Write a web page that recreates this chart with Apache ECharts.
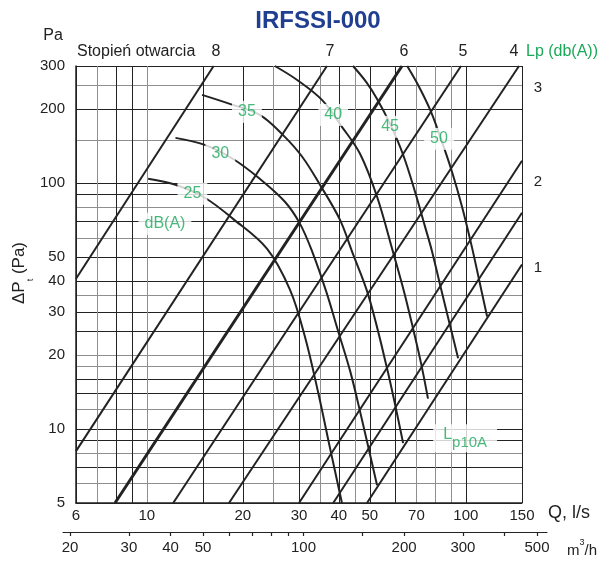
<!DOCTYPE html>
<html><head><meta charset="utf-8">
<script src="https://cdn.jsdelivr.net/npm/echarts@6/dist/echarts.min.js"></script>
<style>html,body{margin:0;padding:0;background:#fff}#c{width:606px;height:561px}</style>
</head><body><div id="c"></div>
<script>
// ---- axis values ----
const qBlackLines = [6, 8, 9, 15, 20, 30, 40, 50, 60, 100, 150];
const qGrayLines = [7, 10, 25, 35, 45, 70, 80, 90];
const qLabels = [6, 10, 20, 30, 40, 50, 70, 100, 150];
const pBlackLines = [5, 7, 9, 10, 14, 16, 25, 30, 40, 50, 70, 90, 100, 200, 300];
const pGrayLines = [6, 8, 12, 18, 20, 35, 60, 80, 150, 250];
const pLabels = [5, 10, 20, 30, 40, 50, 100, 200, 300];
const m3hTicks = [20, 30, 40, 50, 60, 70, 80, 90, 100, 150, 200, 300, 400, 500];
const m3hLabels = [20, 30, 40, 50, 100, 200, 300, 500];

// ---- damper opening lines (Q l/s, dP Pa) ----
const openingNames = ['8', '7', '6', '5', '4', '3', '2', '1'];
const openingStart = [[6, 40.9], [6, 8.13], [7.95, 5], [12.1, 5], [18.1, 5], [30, 5], [38.4, 5], [49.0, 5]];
const openingEnd = [[16.2, 300], [36.7, 300], [63.1, 300], [96.6, 300], [146.8, 300], [150, 123.4], [150, 75.9], [150, 46.7]];

// ---- sound level curves dB(A) ----
const curve25 = [[10.1, 104.3], [12.3, 98.6], [15.2, 87.3], [18.6, 71.8], [23.8, 54.2], [28.1, 36.9], [31.3, 23.8], [34.4, 14.2], [37.5, 8.4], [40.9, 5]];
const curve30 = [[12.3, 153.0], [15.2, 143.3], [18.6, 125.8], [22.6, 104.3], [27.1, 84.1], [30.2, 68.5], [33.0, 52.7], [36.5, 36.3], [39.8, 25.0], [43.4, 17.2], [46.6, 11.8], [52.7, 5.9]];
const curve35 = [[14.9, 228.8], [18.2, 210.3], [22.6, 189.8], [26.7, 157.4], [30.7, 128.2], [34.9, 98.6], [40.3, 71.1], [44.0, 52.7], [49.4, 35.3], [56.6, 17.7], [63.6, 8.76]];
const curve40 = [[25.2, 300], [29.6, 263.2], [35.4, 218.3], [40.9, 169.7], [46.6, 131.8], [52.7, 88.1], [59.1, 52.7], [64.0, 36.3], [68.3, 25.7], [72.4, 18.5], [76.1, 13.3]];
const curve45 = [[44.3, 300], [48.7, 258.5], [52.7, 220.4], [57.9, 174.4], [63.6, 130.6], [69.3, 92.4], [74.5, 66.6], [78.4, 52.7], [83.0, 38.7], [88.6, 27.4], [94.6, 19.4]];
const curve50 = [[65.5, 300], [71.4, 246.5], [77.8, 195.2], [84.2, 147.4], [90.5, 111.4], [97.3, 80.3], [103.9, 56.8], [110.0, 40.6], [116.6, 28.7]];

const curveLabelText = ['25', '30', '35', '40', '45', '50', 'dB(A)'];
const curveLabelQ = [13.9, 17.0, 20.6, 38.4, 57.9, 82.4, 11.4];
const curveLabelP = [90.6, 131.8, 195.2, 189.7, 169.7, 151.6, 68.5];
const lp10aPos = [99.5, 9.17];

// ---- styles ----
const FONT = "'Liberation Sans', Arial, Helvetica, sans-serif";
const INK = '#222';
const GRAY = '#8e8e8e';
const GREEN = '#1ba85a';
const BLUE = '#213f91';

const chart = echarts.init(document.getElementById('c'), null, {renderer: 'canvas', width: 606, height: 561});
const fmt = v => String(Math.round(v));
const lbl = {color: INK, fontSize: 15, fontFamily: FONT, formatter: fmt};

const series = [];
openingNames.forEach((n, i) => {
  series.push({
    type: 'line', name: 'opening ' + n, xAxisIndex: 0, yAxisIndex: 0,
    data: [openingStart[i], openingEnd[i]], showSymbol: false, silent: true, z: 3,
    lineStyle: {color: INK, width: n === '6' ? 3 : 2}
  });
});
[curve25, curve30, curve35, curve40, curve45, curve50].forEach((c, i) => {
  series.push({
    type: 'line', name: 'dB ' + (25 + 5 * i), xAxisIndex: 0, yAxisIndex: 0,
    data: c, smooth: 0.35, showSymbol: false, silent: true, z: 3,
    lineStyle: {color: INK, width: 2}
  });
});
series.push({
  type: 'scatter', xAxisIndex: 0, yAxisIndex: 0, z: 10, silent: true,
  symbolSize: 1, itemStyle: {color: 'rgba(0,0,0,0)'},
  data: curveLabelText.map((t, i) => [curveLabelQ[i], curveLabelP[i], t]),
  label: {show: true, position: 'inside', formatter: p => p.data[2], color: GREEN,
    fontSize: 16, fontFamily: FONT, backgroundColor: '#fff', padding: [3, 6]}
});
series.push({
  type: 'scatter', xAxisIndex: 0, yAxisIndex: 0, z: 10, silent: true,
  symbolSize: 1, itemStyle: {color: 'rgba(0,0,0,0)'},
  data: [lp10aPos],
  label: {show: true, position: 'inside', formatter: '{a|L}{b|p10A}', backgroundColor: '#fff', padding: [2, 10],
    rich: {
      a: {color: GREEN, fontSize: 16, fontFamily: FONT, lineHeight: 24, verticalAlign: 'top'},
      b: {color: GREEN, fontSize: 15, fontFamily: FONT, lineHeight: 24, verticalAlign: 'bottom'}
    }}
});

const txt = (text, x, y, opt) => Object.assign({type: 'text', x, y, silent: true,
  style: Object.assign({text, fill: INK, fontSize: 16, fontFamily: FONT, align: 'center', verticalAlign: 'middle'}, opt || {})});

const graphics = [
  txt('IRFSSI-000', 318, 21, {fill: BLUE, fontSize: 24, fontWeight: 'bold'}),
  txt('Pa', 53, 36, {}),
  txt('Stopień otwarcia', 77, 52, {align: 'left'}),
  txt('8', 216, 52, {}), txt('7', 330, 52, {}), txt('6', 404, 52, {}), txt('5', 463, 52, {}), txt('4', 514, 52, {}),
  txt('Lp (db(A))', 526, 52, {align: 'left', fill: GREEN}),
  txt('3', 538, 88, {fontSize: 15}), txt('2', 538, 182, {fontSize: 15}), txt('1', 538, 268, {fontSize: 15}),
  txt('Q, l/s', 548, 513, {align: 'left', fontSize: 18}),
  {type: 'text', x: 567, y: 548, silent: true, style: {text: '{a|m}{s|3}{a|/h}', align: 'left', verticalAlign: 'middle',
    rich: {a: {fill: INK, fontSize: 15, fontFamily: FONT, lineHeight: 20, verticalAlign: 'bottom'},
           s: {fill: INK, fontSize: 9, fontFamily: FONT, lineHeight: 20, verticalAlign: 'top'}}}},
  {type: 'text', x: 23, y: 273, rotation: Math.PI / 2, silent: true, style: {text: '{a|ΔP}{b|t}{a| (Pa)}', align: 'center', verticalAlign: 'middle',
    rich: {a: {fill: INK, fontSize: 17, fontFamily: FONT, lineHeight: 24, verticalAlign: 'top'},
           b: {fill: INK, fontSize: 9, fontFamily: FONT, lineHeight: 24, verticalAlign: 'bottom'}}}}
];

const option = {
  animation: false,
  backgroundColor: '#fff',
  grid: [
    {left: 76, right: 84, top: 66, bottom: 58, containLabel: false, outerBoundsMode: 'none'},
    {left: 63, right: 59, top: 531, height: 1, containLabel: false, outerBoundsMode: 'none'}
  ],
  xAxis: [
    {gridIndex: 0, type: 'log', logBase: 10, min: 6, max: 150, position: 'bottom',
      axisLine: {show: true, onZero: false, lineStyle: {color: INK, width: 1.5}},
      axisTick: {show: false, customValues: qBlackLines},
      axisLabel: Object.assign({customValues: qLabels, margin: 5}, lbl),
      splitLine: {show: true, lineStyle: {color: INK, width: 1}},
      minorTick: {show: false}, minorSplitLine: {show: false}},
    {gridIndex: 0, type: 'log', logBase: 10, min: 6, max: 150, position: 'top',
      axisLine: {show: false}, axisTick: {show: false, customValues: qGrayLines}, axisLabel: {show: false},
      splitLine: {show: true, lineStyle: {color: GRAY, width: 1}}},
    {gridIndex: 1, type: 'log', logBase: 10, min: 19.05, max: 535.6, position: 'bottom',
      axisLine: {show: true, onZero: false, lineStyle: {color: INK, width: 1.2}},
      axisTick: {show: true, customValues: m3hTicks, length: 4, lineStyle: {color: INK, width: 1.2}},
      axisLabel: Object.assign({customValues: m3hLabels, margin: 8}, lbl),
      splitLine: {show: false}}
  ],
  yAxis: [
    {gridIndex: 0, type: 'log', logBase: 10, min: 5, max: 300, position: 'left',
      axisLine: {show: true, onZero: false, lineStyle: {color: INK, width: 1.5}},
      axisTick: {show: false, customValues: pBlackLines},
      axisLabel: Object.assign({customValues: pLabels, margin: 11}, lbl),
      splitLine: {show: true, lineStyle: {color: INK, width: 1}},
      minorTick: {show: false}, minorSplitLine: {show: false}},
    {gridIndex: 0, type: 'log', logBase: 10, min: 5, max: 300, position: 'right',
      axisLine: {show: false}, axisTick: {show: false, customValues: pGrayLines}, axisLabel: {show: false},
      splitLine: {show: true, lineStyle: {color: GRAY, width: 1}}},
    {gridIndex: 1, type: 'value', show: false, min: 0, max: 1}
  ],
  graphic: graphics,
  series: series
};
chart.setOption(option);
</script>
</body></html>
